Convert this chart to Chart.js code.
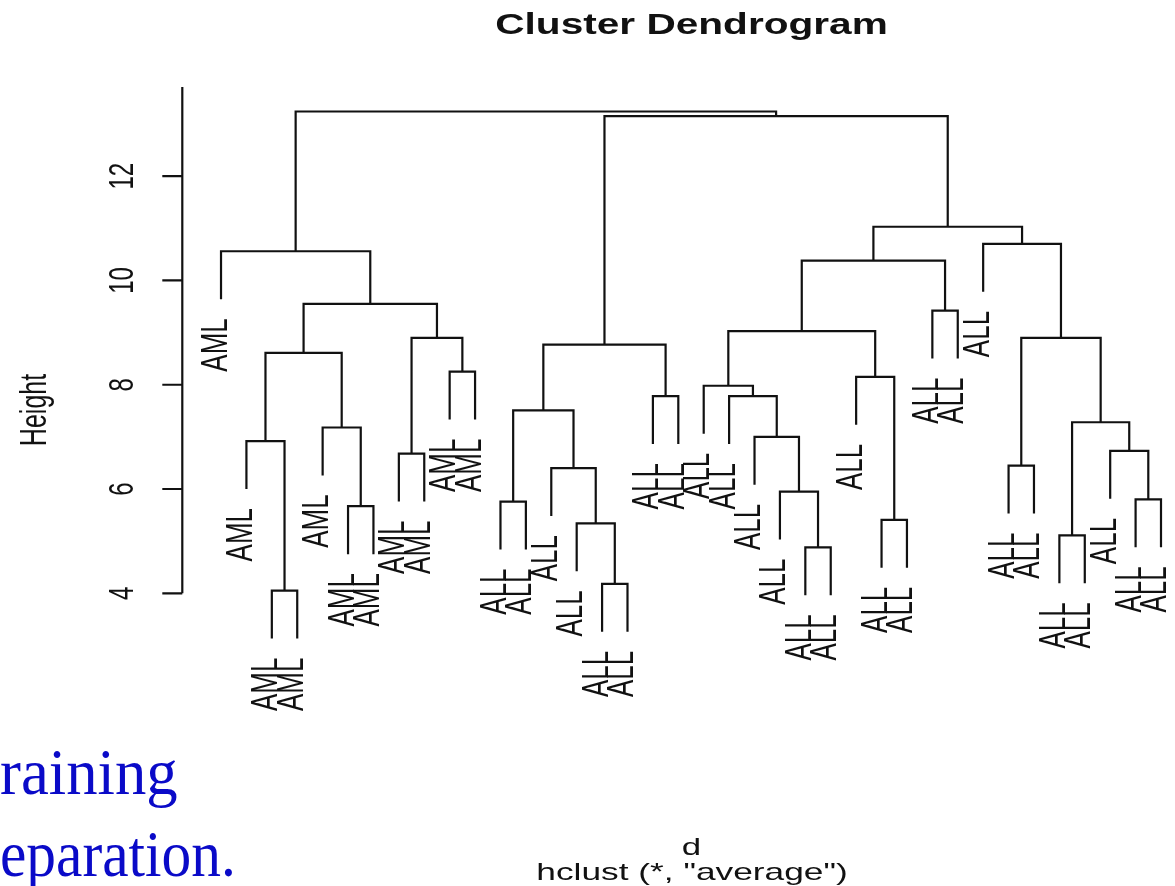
<!DOCTYPE html>
<html>
<head>
<meta charset="utf-8">
<script src="https://cdn.jsdelivr.net/npm/chart.js@4.4.0/dist/chart.umd.min.js"></script>
<style>
  html, body { margin: 0; padding: 0; background: #fff; }
  #wrap { width: 1175px; height: 886px; }
</style>
</head>
<body>
<div id="wrap"><canvas id="dendro" width="1175" height="886"></canvas></div>
<script>
// Leaf labels in plotted order (left to right)
const leafLabels = [
  'AML', 'AML', 'AML', 'AML', 'AML', 'AML', 'AML', 'AML', 'AML', 'AML', 'AML',
  'ALL', 'ALL', 'ALL', 'ALL', 'ALL', 'ALL', 'ALL', 'ALL', 'ALL', 'ALL', 'ALL',
  'ALL', 'ALL', 'ALL', 'ALL', 'ALL', 'ALL', 'ALL', 'ALL', 'ALL', 'ALL', 'ALL',
  'ALL', 'ALL', 'ALL', 'ALL', 'ALL'
];

// Merges like R's hclust: negative = leaf (plotted position), positive = earlier merge
const mergeLeft  = [-3, -16, -24, -34, -15, -27, -6, -12, -37, -23, -14, -32, -8, -36, -2, -22, -5, 4, 8,
  -18, -21, -20, -26, -10, 15, 19, 13, 12, 22, -29, 25, 29, -1, -31, 32, 26, 33];
const mergeRight = [-4, -17, -25, -35, 2, -28, -7, -13, -38, 3, 5, -33, -9, 9, 1, 10, 7, 14, 11,
  -19, 16, 21, 6, -11, 17, 20, 24, 18, 23, -30, 27, 30, 31, 28, 34, 35, 36];
const mergeHeight = [4.05, 4.18, 4.88, 5.11, 5.34, 5.41, 5.67, 5.76, 5.80, 5.95, 6.40, 6.45, 6.68,
  6.73, 6.92, 7.00, 7.18, 7.28, 7.51, 7.78, 7.78, 7.98, 8.15, 8.25, 8.61, 8.77, 8.90, 8.90, 9.03,
  9.42, 9.55, 10.38, 10.56, 10.70, 11.03, 13.15, 13.24];

// Axis ticks
const yTicks = [4, 6, 8, 10, 12];

const SX = 1.45; // the original picture is stretched sideways
const hang = 0.1 * (Math.max(...mergeHeight) - Math.min(...mergeHeight));

// x position of every merge = middle of its two children
const mergeX = [];
const leafParentH = [];
function posOf(ref) { return ref < 0 ? -ref : mergeX[ref - 1]; }
function topOf(ref, h) { return ref < 0 ? h - hang : mergeHeight[ref - 1]; }
mergeHeight.forEach((h, k) => {
  mergeX[k] = (posOf(mergeLeft[k]) + posOf(mergeRight[k])) / 2;
  if (mergeLeft[k] < 0) leafParentH[-mergeLeft[k]] = h;
  if (mergeRight[k] < 0) leafParentH[-mergeRight[k]] = h;
});

const datasets = mergeHeight.map((h, k) => {
  const l = mergeLeft[k], r = mergeRight[k];
  return {
    data: [
      { x: posOf(l), y: topOf(l, h) },
      { x: posOf(l), y: h },
      { x: posOf(r), y: h },
      { x: posOf(r), y: topOf(r, h) }
    ],
    borderColor: '#111',
    borderWidth: 2.2,
    pointRadius: 0,
    tension: 0,
    fill: false,
    clip: false
  };
});

function stretchText(ctx, txt, x, y, font, align, rot, color, sx) {
  ctx.save();
  ctx.translate(x, y);
  ctx.scale(sx || SX, 1);
  if (rot) ctx.rotate(-Math.PI / 2);
  ctx.font = font;
  ctx.textAlign = align;
  ctx.textBaseline = 'alphabetic';
  ctx.fillStyle = color || '#111';
  ctx.fillText(txt, 0, 0);
  ctx.restore();
}

// Draw axis, labels and texts around the tree
const decorPlugin = {
  id: 'decor',
  afterDraw(chart) {
    const ctx = chart.ctx;
    const xs = chart.scales.x, ys = chart.scales.y;
    const axisX = chart.chartArea.left;
    ctx.save();
    ctx.strokeStyle = '#111';
    ctx.lineWidth = 2.2;
    ctx.beginPath();
    ctx.moveTo(axisX, ys.getPixelForValue(yTicks[0]));
    ctx.lineTo(axisX, ys.top);
    yTicks.forEach(v => {
      const py = ys.getPixelForValue(v);
      ctx.moveTo(axisX - 20, py);
      ctx.lineTo(axisX, py);
    });
    ctx.stroke();
    ctx.restore();

    yTicks.forEach(v => {
      stretchText(ctx, String(v), axisX - 49, ys.getPixelForValue(v), '24px "Liberation Sans"', 'center', true);
    });
    stretchText(ctx, 'Height', 46, 410, '25px "Liberation Sans"', 'center', true);

    // leaf labels
    leafLabels.forEach((lab, i) => {
      const idx = i + 1;
      const px = xs.getPixelForValue(idx) + 5.5;
      const py = ys.getPixelForValue(leafParentH[idx] - hang) + 19;
      stretchText(ctx, lab, px, py, '26px "Liberation Sans"', 'right', true);
    });

    stretchText(ctx, 'Cluster Dendrogram', 691.5, 34, 'bold 29px "Liberation Sans"', 'center', false, '#111', 1.4);
    stretchText(ctx, 'd', 691.5, 855, '24px "Liberation Sans"', 'center', false);
    stretchText(ctx, 'hclust (*, "average")', 692, 880, '24px "Liberation Sans"', 'center', false, '#111', 1.47);

    // slide text behind the chart
    stretchText(ctx, 'raining', 0, 794, '66px "Liberation Serif"', 'left', false, '#0a0ac8', 0.95);
    stretchText(ctx, 'eparation.', 0, 876, '66px "Liberation Serif"', 'left', false, '#0a0ac8', 0.9);
  }
};

new Chart(document.getElementById('dendro'), {
  type: 'line',
  data: { datasets: datasets },
  options: {
    responsive: false,
    animation: false,
    layout: { padding: { left: 182.3, top: 87, right: 1.3, bottom: 292.7 } },
    plugins: { legend: { display: false }, tooltip: { enabled: false }, title: { display: false } },
    scales: {
      x: { type: 'linear', min: -0.524, max: 38.5, display: false },
      y: { type: 'linear', min: 4, max: 13.71, display: false }
    }
  },
  plugins: [decorPlugin]
});
</script>
</body>
</html>
